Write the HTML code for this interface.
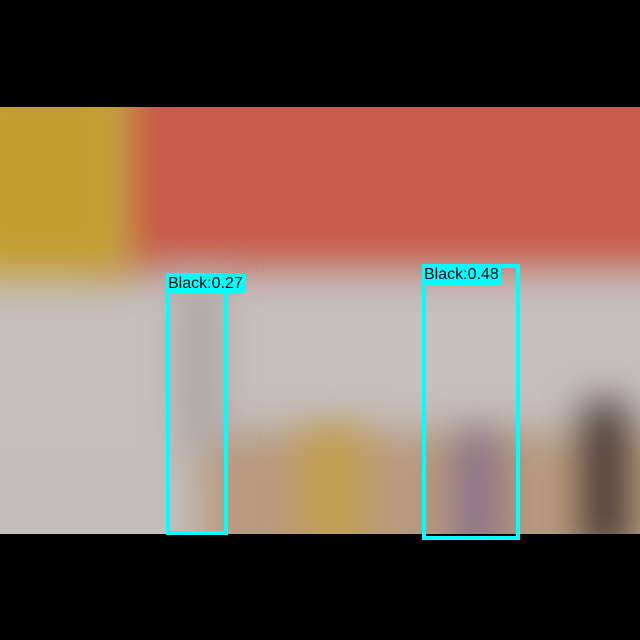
<!DOCTYPE html>
<html><head><meta charset="utf-8"><style>
html,body{margin:0;padding:0;background:#000;}
#wrap{position:relative;width:640px;height:640px;overflow:hidden;background:#000;font-family:"Liberation Sans",sans-serif;}
#photo{position:absolute;left:0;top:107px;width:640px;height:427px;overflow:hidden;background:#c4bfbd;}
.blob{position:absolute;filter:blur(20px);}
.box{position:absolute;border:4px solid #00ffff;box-sizing:border-box;}
.lbl{position:absolute;background:#00ffff;color:#000;font-size:16px;line-height:19px;padding-left:2px;box-sizing:border-box;white-space:nowrap;}
</style></head><body>
<div id="wrap">
<div id="photo">
  <div class="blob" style="left:-40px;top:160px;width:720px;height:180px;background:#c5bfbe;"></div>
  <div class="blob" style="left:110px;top:-40px;width:580px;height:200px;background:#c85a48;"></div>
  <div class="blob" style="left:-40px;top:-40px;width:170px;height:210px;background:#c39d2e;"></div>
  <div class="blob" style="left:200px;top:325px;width:480px;height:150px;background:#b89a7e;"></div>
  <div class="blob" style="left:180px;top:170px;width:40px;height:170px;background:#a9a4a2;"></div>
  <div class="blob" style="left:300px;top:320px;width:65px;height:130px;background:#c4a050;"></div>
  <div class="blob" style="left:455px;top:325px;width:45px;height:130px;background:#86708a;"></div>
  <div class="blob" style="left:585px;top:295px;width:40px;height:150px;background:#3a2c2a;"></div>
</div>
<div class="box" style="left:166px;top:273px;width:62px;height:262px;"></div>
<div class="lbl" style="left:166px;top:274px;width:80px;height:19px;">Black:0.27</div>
<div class="box" style="left:422px;top:264px;width:98px;height:276px;"></div>
<div class="lbl" style="left:422px;top:265px;width:79px;height:20px;">Black:0.48</div>
</div>
</body></html>
